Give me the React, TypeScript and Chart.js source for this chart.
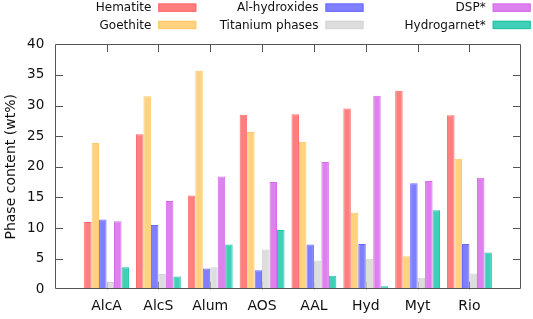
import React, { useEffect, useRef } from "react";
import { Chart, registerables } from "chart.js";

Chart.register(...registerables);

const categories = ["AlcA", "AlcS", "Alum", "AOS", "AAL", "Hyd", "Myt", "Rio"];
const seriesNames = ["Hematite", "Goethite", "Al-hydroxides", "Titanium phases", "DSP*", "Hydrogarnet*"];
const hematite = [11.0, 25.3, 15.3, 28.5, 28.6, 29.5, 32.4, 28.4];
const goethite = [23.9, 31.5, 35.7, 25.7, 24.1, 12.5, 5.4, 21.3];
const alHydroxides = [11.4, 10.5, 3.4, 3.1, 7.3, 7.4, 17.3, 7.4];
const titaniumPhases = [1.2, 2.5, 3.6, 6.5, 4.7, 5.0, 1.9, 2.6];
const dsp = [11.1, 14.4, 18.4, 17.5, 20.8, 31.6, 17.7, 18.2];
const hydrogarnet = [3.6, 2.1, 7.3, 9.7, 2.2, 0.5, 12.9, 6.0];
const yTicks = [0, 5, 10, 15, 20, 25, 30, 35, 40];

const fills = ["#FF7F7F", "#FFD27F", "#7F7FFF", "#DDDDDD", "#DF80EF", "#40D0B8"];
const borders = ["#FF6A6A", "#FFC868", "#6A6AFF", "#D2D2D2", "#D56AEA", "#22C2A6"];

const FONT = "'DejaVu Sans', Verdana, sans-serif";

const framePlugin = {
  id: "frame",
  beforeDatasetsDraw(chart: any) {
    const { ctx, chartArea } = chart;
    const x = chart.scales.x;
    ctx.save();
    ctx.strokeStyle = "#555555";
    ctx.lineWidth = 1;
    ctx.beginPath();
    for (let i = 1; i <= categories.length; i++) {
      const px = Math.round(x.getPixelForValue(i)) + 0.5;
      ctx.moveTo(px, chartArea.bottom);
      ctx.lineTo(px, chartArea.bottom - 7.5);
    }
    ctx.stroke();
    ctx.restore();
  },
  afterDatasetsDraw(chart: any) {
    const { ctx, chartArea } = chart;
    const x = chart.scales.x;
    const y = chart.scales.y;
    const L = Math.round(chartArea.left) + 0.5;
    const R = Math.round(chartArea.right) - 0.5;
    const T = Math.round(chartArea.top) + 0.5;
    const B = Math.round(chartArea.bottom) - 0.5;
    ctx.save();
    ctx.strokeStyle = "#555555";
    ctx.lineWidth = 1;
    ctx.beginPath();
    for (let i = 1; i <= categories.length; i++) {
      const px = Math.round(x.getPixelForValue(i)) + 0.5;
      ctx.moveTo(px, T);
      ctx.lineTo(px, T + 7.5);
    }
    yTicks.slice(1, -1).forEach((v) => {
      const py = Math.round(y.getPixelForValue(v)) + 0.5;
      ctx.moveTo(L, py);
      ctx.lineTo(L + 7.5, py);
      ctx.moveTo(R, py);
      ctx.lineTo(R - 7.5, py);
    });
    ctx.stroke();
    ctx.beginPath();
    ctx.rect(L, T, R - L, B - T);
    ctx.stroke();
    ctx.restore();
  },
  afterDraw(chart: any) {
    const { ctx } = chart;
    ctx.save();
    ctx.font = `12px ${FONT}`;
    ctx.textAlign = "right";
    ctx.textBaseline = "alphabetic";
    chart.data.datasets.forEach((ds: any, i: number) => {
      const col = Math.floor(i / 2);
      const row = i % 2;
      const sx = 158.3 + col * 167.2;
      const sy = 3.5 + row * 17.3;
      ctx.fillStyle = ds.backgroundColor;
      ctx.fillRect(sx, sy, 38, 8.3);
      ctx.strokeStyle = ds.borderColor;
      ctx.lineWidth = 1;
      ctx.strokeRect(sx + 0.5, sy + 0.5, 37, 7.3);
      ctx.fillStyle = "#111111";
      ctx.fillText(ds.label, sx - 7, 11.3 + row * 17.3);
    });
    ctx.restore();
  },
};

const seriesData = [hematite, goethite, alHydroxides, titaniumPhases, dsp, hydrogarnet];

export default function App() {
  const ref = useRef<HTMLCanvasElement | null>(null);
  useEffect(() => {
    if (!ref.current) return;
    const chart = new Chart(ref.current, {
      type: "bar",
      data: {
        labels: ["", ...categories, ""],
        datasets: seriesData.map((d, i) => ({
          label: seriesNames[i],
          data: [null, ...d, null],
          backgroundColor: fills[i],
          borderColor: borders[i],
          borderWidth: 1,
          borderSkipped: "start",
          categoryPercentage: 0.865,
          barPercentage: 1,
        })),
      },
      options: {
        responsive: false,
        animation: false,
        devicePixelRatio: 1,
        layout: { padding: { top: 44.3, right: 11.7, left: 0, bottom: 0 } },
        plugins: { legend: { display: false }, tooltip: { enabled: false } },
        scales: {
          x: {
            type: "category",
            offset: false,
            grid: { display: false, drawTicks: false },
            border: { display: false },
            ticks: {
              autoSkip: false,
              maxRotation: 0,
              padding: 9,
              color: "#111111",
              font: { family: FONT, size: 14 },
            },
            afterFit(scale: any) {
              scale.height = 29.7;
            },
          },
          y: {
            min: 0,
            max: 40,
            grid: { display: false, drawTicks: false },
            border: { display: false },
            ticks: {
              stepSize: 5,
              padding: 10.4,
              color: "#111111",
              font: { family: FONT, size: 13.5 },
            },
            title: {
              display: true,
              text: "Phase content (wt%)",
              color: "#111111",
              font: { family: FONT, size: 14 },
              padding: { top: 3, bottom: 0 },
            },
            afterFit(scale: any) {
              scale.width = 54.7;
            },
          },
        },
      },
      plugins: [framePlugin],
    });
    return () => chart.destroy();
  }, []);
  return (
    <div style={{ position: "absolute", left: 0, top: 0, width: 533, height: 319, background: "#fff" }}>
      <canvas ref={ref} width={533} height={319} />
    </div>
  );
}
